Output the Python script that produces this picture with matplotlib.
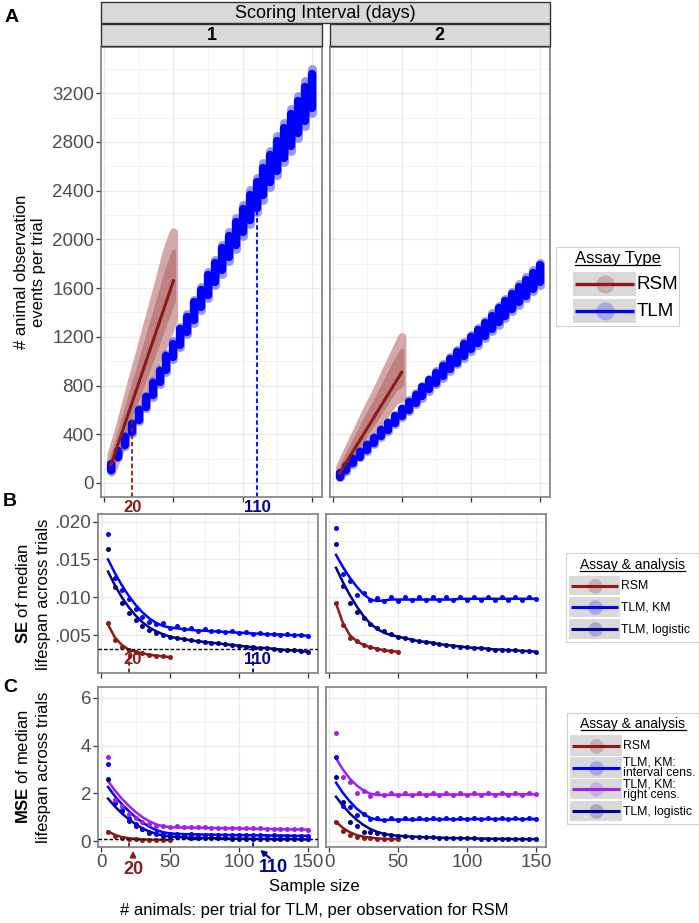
import numpy as np
import matplotlib
matplotlib.use("Agg")
import matplotlib.pyplot as plt
from matplotlib.patches import Rectangle
from matplotlib.ticker import FuncFormatter

plt.rcParams['font.family'] = ['Liberation Sans', 'DejaVu Sans']
plt.rcParams['mathtext.fontset'] = 'custom'
plt.rcParams['mathtext.rm'] = 'Liberation Sans'
plt.rcParams['mathtext.bf'] = 'Liberation Sans:bold'

W, H = 699, 923

RSM_COL = '#8B1A1A'
KM_COL = '#0000FF'
RC_COL = '#A020F0'
LOG_COL = '#00008B'
RSM_LIGHT = '#D4A8A8'
RSM_MID = '#BE8080'

intervals = ['1', '2']
n_tlm = np.arange(5, 155, 5)
n_rsm = np.arange(5, 55, 5)

# ---- panel A: observation events per trial (range of trials at each n)
tlm_lo = {
    '1': [104, 210, 305, 412, 508, 615, 709, 816, 911, 1018, 1113, 1220, 1315, 1422, 1517,
          1624, 1719, 1826, 1921, 2028, 2123, 2227, 2325, 2432, 2527, 2634, 2729, 2836, 2931, 3038],
    '2': [47, 102, 156, 211, 265, 320, 374, 429, 483, 538, 592, 647, 701, 756, 810,
          865, 919, 974, 1028, 1083, 1137, 1192, 1246, 1301, 1355, 1410, 1464, 1519, 1573, 1628],
}
tlm_hi = {
    '1': [160, 266, 385, 490, 610, 714, 834, 938, 1058, 1162, 1282, 1386, 1506, 1610, 1730,
          1834, 1954, 2058, 2178, 2282, 2402, 2506, 2626, 2730, 2850, 2954, 3074, 3178, 3298, 3402],
    '2': [83, 142, 202, 261, 321, 380, 440, 499, 559, 618, 678, 737, 797, 856, 916,
          975, 1035, 1094, 1154, 1213, 1273, 1332, 1392, 1451, 1511, 1570, 1630, 1689, 1749, 1808],
}
rsm_lo = {'1': [90, 230, 370, 505, 640, 780, 915, 1055, 1195, 1340],
          '2': [50, 130, 205, 285, 365, 440, 520, 600, 680, 700]}
rsm_hi = {'1': [230, 420, 630, 845, 1050, 1260, 1470, 1680, 1900, 2060],
          '2': [130, 250, 370, 490, 610, 720, 840, 960, 1080, 1200]}
rsm_line_n = [5, 50]
rsm_line_y = {'1': [150, 1660], '2': [80, 910]}

# ---- panel B: SE of median lifespan
se_pts = {
    '1': {
        'RSM': [.0066, .0044, .0035, .0030, .0028, .0026, .0024, .0023, .0022, .0021],
        'KM': [.0184, .0126, .0110, .0098, .0085, .0074, .0068, .0065, .0066, .0060, .0062, .0058, .0060, .0056, .0058,
               .0055, .0056, .0054, .0055, .0053, .0054, .0052, .0053, .0051, .0052, .0050, .0051, .0050, .0050, .0049],
        'LOG': [.0164, .0113, .0092, .0079, .0070, .0062, .0057, .0053, .0050, .0048, .0046, .0045, .0043, .0042, .0041,
                .0040, .0039, .0038, .0037, .0036, .0035, .0034, .0033, .0033, .0032, .0031, .0030, .0030, .0029, .0028],
    },
    '2': {
        'RSM': [.0092, .0064, .0046, .0042, .0037, .0034, .0032, .0030, .0029, .0028],
        'KM': [.0191, .0131, .0122, .0103, .0106, .0096, .0099, .0095, .0101, .0095, .0101, .0096, .0100, .0096, .0100,
               .0096, .0100, .0096, .0100, .0096, .0100, .0096, .0100, .0096, .0100, .0096, .0100, .0096, .0100, .0098],
        'LOG': [.0170, .0115, .0093, .0080, .0072, .0065, .0060, .0055, .0052, .0048, .0046, .0044, .0042, .0041, .0040,
                .0038, .0037, .0036, .0035, .0034, .0033, .0033, .0032, .0031, .0031, .0030, .0030, .0029, .0029, .0028],
    },
}
se_fit = {
    '1': {
        'RSM': [.0064, .0047, .0037, .0031, .0028, .0026, .0024, .0023, .0022, .0021],
        'KM': [.0150, .0132, .0116, .0102, .0090, .0080, .0072, .0066, .0062, .0060, .0059, .0058, .0057, .0056, .0056,
               .0055, .0055, .0054, .0054, .0053, .0053, .0052, .0052, .0051, .0051, .0051, .0050, .0050, .0050, .0049],
        'LOG': [.0134, .0116, .0100, .0087, .0076, .0067, .0060, .0055, .0051, .0048, .0046, .0045, .0043, .0042, .0041,
                .0040, .0039, .0038, .0037, .0036, .0035, .0034, .0033, .0033, .0032, .0031, .0030, .0030, .0029, .0028],
    },
    '2': {
        'RSM': [.0092, .0066, .0050, .0042, .0037, .0034, .0032, .0030, .0029, .0028],
        'KM': [.0156, .0140, .0126, .0114, .0104, .0097, .0095, .0096, .0097, .0097, .0097, .0097, .0097, .0097, .0097,
               .0097, .0097, .0097, .0098, .0098, .0098, .0098, .0098, .0098, .0098, .0098, .0098, .0098, .0098, .0098],
        'LOG': [.0139, .0120, .0103, .0088, .0075, .0065, .0058, .0053, .0050, .0048, .0046, .0044, .0042, .0041, .0040,
                .0038, .0037, .0036, .0035, .0034, .0033, .0033, .0032, .0031, .0031, .0030, .0030, .0029, .0029, .0028],
    },
}

# ---- panel C: MSE of median lifespan
mse_pts = {
    '1': {
        'RSM': [0.38, 0.20, 0.12, 0.09, 0.07, 0.06, 0.05, 0.05, 0.04, 0.04],
        'KM': [3.25, 1.60, 1.30, 0.95, 0.70, 0.50, 0.38, 0.32, 0.30, 0.28, 0.29, 0.27, 0.28, 0.26, 0.27,
               0.25, 0.26, 0.25, 0.25, 0.24, 0.25, 0.24, 0.24, 0.23, 0.24, 0.23, 0.23, 0.22, 0.23, 0.22],
        'RC': [3.51, 1.72, 1.45, 1.15, 0.95, 0.80, 0.70, 0.65, 0.62, 0.60, 0.61, 0.58, 0.59, 0.57, 0.58,
               0.56, 0.56, 0.55, 0.55, 0.54, 0.54, 0.53, 0.53, 0.52, 0.52, 0.51, 0.50, 0.50, 0.49, 0.48],
        'LOG': [2.62, 1.72, 1.25, 0.82, 0.62, 0.50, 0.35, 0.30, 0.22, 0.18, 0.16, 0.15, 0.14, 0.13, 0.12,
                0.12, 0.11, 0.11, 0.10, 0.10, 0.10, 0.09, 0.09, 0.09, 0.08, 0.08, 0.08, 0.08, 0.07, 0.07],
    },
    '2': {
        'RSM': [0.81, 0.42, 0.26, 0.18, 0.14, 0.11, 0.10, 0.09, 0.08, 0.08],
        'KM': [3.54, 1.47, 1.44, 1.09, 1.12, 0.91, 0.98, 0.90, 0.98, 0.90, 0.98, 0.91, 0.98, 0.91, 0.98,
               0.91, 0.98, 0.91, 0.98, 0.92, 0.98, 0.92, 0.98, 0.92, 0.98, 0.92, 0.98, 0.92, 0.98, 0.93],
        'RC': [4.55, 2.67, 2.46, 2.03, 2.11, 1.90, 2.00, 1.92, 2.00, 1.92, 2.00, 1.92, 2.00, 1.92, 2.00,
               1.92, 2.00, 1.93, 2.00, 1.93, 2.00, 1.93, 2.00, 1.93, 2.00, 1.93, 2.00, 1.94, 2.00, 1.96],
        'LOG': [2.70, 1.65, 0.81, 0.63, 0.39, 0.37, 0.33, 0.28, 0.25, 0.22, 0.20, 0.19, 0.17, 0.16, 0.15,
                0.14, 0.13, 0.12, 0.12, 0.11, 0.11, 0.10, 0.10, 0.09, 0.09, 0.09, 0.08, 0.08, 0.08, 0.08],
    },
}
mse_fit = {
    '1': {
        'RSM': [0.40, 0.26, 0.17, 0.12, 0.09, 0.07, 0.06, 0.05, 0.05, 0.04],
        'KM': [2.27, 1.88, 1.55, 1.26, 1.00, 0.78, 0.60, 0.46, 0.37, 0.32, 0.30, 0.29, 0.28, 0.28, 0.27,
               0.27, 0.26, 0.26, 0.25, 0.25, 0.25, 0.24, 0.24, 0.24, 0.23, 0.23, 0.23, 0.22, 0.22, 0.22],
        'RC': [2.52, 2.12, 1.78, 1.48, 1.22, 1.00, 0.83, 0.70, 0.62, 0.58, 0.57, 0.57, 0.56, 0.56, 0.55,
               0.55, 0.54, 0.54, 0.53, 0.53, 0.52, 0.52, 0.51, 0.51, 0.50, 0.50, 0.49, 0.49, 0.48, 0.48],
        'LOG': [1.78, 1.45, 1.16, 0.92, 0.71, 0.53, 0.40, 0.30, 0.23, 0.19, 0.17, 0.15, 0.14, 0.13, 0.12,
                0.12, 0.11, 0.11, 0.10, 0.10, 0.10, 0.09, 0.09, 0.09, 0.08, 0.08, 0.08, 0.08, 0.07, 0.07],
    },
    '2': {
        'RSM': [0.81, 0.55, 0.37, 0.25, 0.18, 0.14, 0.11, 0.09, 0.08, 0.08],
        'KM': [2.45, 2.02, 1.66, 1.36, 1.13, 0.97, 0.89, 0.88, 0.89, 0.90, 0.90, 0.90, 0.90, 0.91, 0.91,
               0.91, 0.91, 0.91, 0.91, 0.92, 0.92, 0.92, 0.92, 0.92, 0.92, 0.92, 0.92, 0.92, 0.92, 0.92],
        'RC': [3.47, 3.00, 2.62, 2.33, 2.12, 1.98, 1.93, 1.93, 1.94, 1.94, 1.94, 1.94, 1.95, 1.95, 1.95,
               1.95, 1.95, 1.95, 1.95, 1.95, 1.96, 1.96, 1.96, 1.96, 1.96, 1.96, 1.96, 1.96, 1.96, 1.96],
        'LOG': [1.86, 1.48, 1.16, 0.89, 0.67, 0.50, 0.38, 0.30, 0.25, 0.22, 0.20, 0.19, 0.17, 0.16, 0.15,
                0.14, 0.13, 0.12, 0.12, 0.11, 0.11, 0.10, 0.10, 0.09, 0.09, 0.09, 0.08, 0.08, 0.08, 0.08],
    },
}

# annotation: chosen sample sizes
ann_n = [20, 110]
ann_lab = ['20', '110']
ann_A_top = [517, 2226]
ann_B_y = 0.0032
ann_C_y = 0.10

series_col = {'RSM': RSM_COL, 'KM': KM_COL, 'RC': RC_COL, 'LOG': LOG_COL}

fig = plt.figure(figsize=(W / 100, H / 100), dpi=100)


def box(x0, y0, x1, y1):
    return [x0 / W, 1 - y1 / H, (x1 - x0) / W, (y1 - y0) / H]


XLIM = (-2.25, 157.25)


def style(ax, ylim, yticks, yminor, left=True, bottom_labels=False):
    ax.set_xlim(XLIM)
    ax.set_ylim(ylim)
    ax.set_xticks([0, 50, 100, 150])
    ax.set_xticks([25, 75, 125], minor=True)
    ax.set_yticks(yticks)
    ax.set_yticks(yminor, minor=True)
    ax.grid(True, which='major', color='#EBEBEB', lw=1.0)
    ax.grid(True, which='minor', color='#F3F3F3', lw=0.7)
    ax.set_axisbelow(True)
    for s in ax.spines.values():
        s.set_color('#7F7F7F')
        s.set_linewidth(1.2)
    ax.tick_params(which='major', length=3.5, width=0.9, color='#333333',
                   labelsize=13.5, labelcolor='#4D4D4D', pad=1.5)
    ax.tick_params(which='minor', length=0)
    ax.tick_params(axis='x', labelbottom=bottom_labels)
    if not left:
        ax.tick_params(axis='y', left=False, labelleft=False)


# ---------------- panel A
axA = [fig.add_axes(box(101, 47, 322, 497)), fig.add_axes(box(329.5, 47, 550, 497))]
for i, (ax, iv) in enumerate(zip(axA, intervals)):
    style(ax, (-115, 3580), list(range(0, 3201, 400)), list(range(200, 3500, 400)), left=(i == 0))
    rlo = np.array(rsm_lo[iv], float)
    rhi = np.array(rsm_hi[iv], float)
    ax.fill_between(n_rsm, rlo, rhi, facecolor=RSM_LIGHT, edgecolor=RSM_LIGHT, lw=6, joinstyle='round')
    rp = (rhi - rlo) * 0.22
    ax.fill_between(n_rsm, rlo + rp, rhi - rp, facecolor=RSM_MID, edgecolor=RSM_MID, lw=3, joinstyle='round')
    lo = np.array(tlm_lo[iv], float)
    hi = np.array(tlm_hi[iv], float)
    ax.vlines(n_tlm, lo, hi, colors=KM_COL, linewidth=6.5, alpha=0.4, capstyle='round')
    pad = (hi - lo) * 0.12
    ax.vlines(n_tlm, lo + pad, hi - pad, colors=KM_COL, linewidth=6, alpha=1.0, capstyle='round')
    ax.plot(rsm_line_n, rsm_line_y[iv], color=RSM_COL, lw=2.2)
axA[0].set_ylabel('# animal observation\nevents per trial', fontsize=12, labelpad=4)
axA[0].vlines(ann_n[0], -115, ann_A_top[0], colors=RSM_COL, linestyles=(0, (2.5, 1.5)), lw=1.3)
axA[0].vlines(ann_n[1], -115, ann_A_top[1], colors=KM_COL, linestyles=(0, (2.5, 1.5)), lw=1.3)

# ---------------- panel B
axB = [fig.add_axes(box(98, 514, 318, 673)), fig.add_axes(box(326, 514, 546, 673))]
for i, (ax, iv) in enumerate(zip(axB, intervals)):
    style(ax, (0.0, 0.0210), [.005, .010, .015, .020], [.0025, .0075, .0125, .0175], left=(i == 0))
    ax.yaxis.set_major_formatter(FuncFormatter(lambda v, p: ('%.3f' % v).lstrip('0')))
    for key in ['RSM', 'KM', 'LOG']:
        xs = n_rsm if key == 'RSM' else n_tlm
        ax.plot(xs, se_fit[iv][key], color=series_col[key], lw=1.8, zorder=3)
        ax.scatter(xs, se_pts[iv][key], s=13, color=series_col[key], lw=0, zorder=4)
axB[0].axhline(ann_B_y, color='black', ls=(0, (2.5, 1.5)), lw=1.0, zorder=5)
axB[0].vlines(ann_n[0], 0, ann_B_y, colors=RSM_COL, linestyles=(0, (2.5, 1.5)), lw=1.3)
axB[0].vlines(ann_n[1], 0, ann_B_y, colors=LOG_COL, linestyles=(0, (2.5, 1.5)), lw=1.3)

# ---------------- panel C
axC = [fig.add_axes(box(98, 687, 318, 847)), fig.add_axes(box(326, 687, 546, 847))]
for i, (ax, iv) in enumerate(zip(axC, intervals)):
    style(ax, (-0.25, 6.46), [0, 2, 4, 6], [1, 3, 5], left=(i == 0), bottom_labels=True)
    for key in ['RSM', 'LOG', 'KM', 'RC']:
        xs = n_rsm if key == 'RSM' else n_tlm
        ax.plot(xs, mse_fit[iv][key], color=series_col[key], lw=1.8, zorder=3)
        ax.scatter(xs, mse_pts[iv][key], s=13, color=series_col[key], lw=0, zorder=4)
axC[0].axhline(ann_C_y, color='black', ls=(0, (2.5, 1.5)), lw=1.0, zorder=5)
axC[0].vlines(ann_n[0], -0.25, ann_C_y, colors=RSM_COL, linestyles=(0, (2.5, 1.5)), lw=1.3)
axC[0].vlines(ann_n[1], -0.25, ann_C_y, colors=LOG_COL, linestyles=(0, (2.5, 1.5)), lw=1.3)

# ---------------- overlay for strips, labels, legends
ov = fig.add_axes([0, 0, 1, 1])
ov.set_xlim(0, W)
ov.set_ylim(H, 0)
ov.axis('off')
ov.patch.set_alpha(0)

ov.add_patch(Rectangle((101, 2), 449, 21, fc='#D9D9D9', ec='#333333', lw=1.0))
ov.text(325.5, 13, 'Scoring Interval (days)', ha='center', va='center', fontsize=13)
for (x0, x1), iv in zip([(101, 322), (329.5, 550)], intervals):
    ov.add_patch(Rectangle((x0, 24), x1 - x0, 22, fc='#D9D9D9', ec='#333333', lw=1.0))
    ov.text((x0 + x1) / 2, 35.5, iv, ha='center', va='center', fontsize=13, fontweight='bold')

for lab, (x, y) in zip(['A', 'B', 'C'], [(12, 18), (10, 502), (10, 688)]):
    ov.text(x, y, lab, ha='center', va='center', fontsize=14, fontweight='bold')

ov.text(23, 594, r'$\mathbf{SE}$ of median', rotation=90, ha='center', va='center', fontsize=12)
ov.text(43.5, 594, 'lifespan across trials', rotation=90, ha='center', va='center', fontsize=12)
ov.text(23, 767, r'$\mathbf{MSE}$ of median', rotation=90, ha='center', va='center', fontsize=12)
ov.text(43.5, 767, 'lifespan across trials', rotation=90, ha='center', va='center', fontsize=12)

ann_col = [RSM_COL, LOG_COL]
for lab, c, x in zip(ann_lab, ann_col, [132.5, 257]):
    ov.text(x, 507, lab, ha='center', va='center', fontsize=12, fontweight='bold', color=c)
    ov.text(x, 659, lab, ha='center', va='center', fontsize=12, fontweight='bold', color=c)
ov.text(133, 869, ann_lab[0], ha='center', va='center', fontsize=13, fontweight='bold', color=RSM_COL)
ov.text(273, 868, ann_lab[1], ha='center', va='center', fontsize=13, fontweight='bold', color=LOG_COL)
ov.annotate('', xy=(133, 848), xytext=(133, 860),
            arrowprops=dict(arrowstyle='-|>', color=RSM_COL, lw=1.5, mutation_scale=8))
ov.annotate('', xy=(258, 848), xytext=(272, 860),
            arrowprops=dict(arrowstyle='-|>', color=LOG_COL, lw=1.5, mutation_scale=8))

ov.text(314, 887, 'Sample size', ha='center', va='center', fontsize=12)
ov.text(314, 911, '# animals: per trial for TLM, per observation for RSM', ha='center', va='center', fontsize=12)

titles = []


def legend_block(x0, y0, x1, y1, title, base, tfs, kx0, kx1, rows, labels, cols, lfs, msize, lw):
    ov.add_patch(Rectangle((x0, y0), x1 - x0, y1 - y0, fc='white', ec='#D0D0D0', lw=0.8))
    t = ov.text((x0 + x1) / 2, base, title, ha='center', va='baseline', fontsize=tfs)
    titles.append((t, base))
    for (ya, yb), lab, col in zip(rows, labels, cols):
        ov.add_patch(Rectangle((kx0, ya), kx1 - kx0, yb - ya, fc='#D9D9D9', ec='none'))
        ym = (ya + yb) / 2
        ov.plot([kx0 + 2, kx1 - 2], [ym, ym], color=col, lw=lw, solid_capstyle='butt')
        ov.scatter([(kx0 + kx1) / 2], [ym], s=msize, color=col, alpha=0.22, lw=0)
        ov.text(kx1 + 1, ym + 0.5, lab, ha='left', va='center', fontsize=lfs, linespacing=0.85)


legend_block(556, 247, 679, 326, 'Assay Type', 263, 12, 573, 636,
             [(272, 296), (299, 323)], ['RSM', 'TLM'], [RSM_COL, KM_COL], 13.5, 170, 2.4)
legend_block(566, 553, 699, 642, 'Assay & analysis', 569, 10, 569, 620,
             [(576, 595), (597, 617), (619, 639)], ['RSM', 'TLM, KM', 'TLM, logistic'],
             [RSM_COL, KM_COL, LOG_COL], 8.8, 110, 2.2)
legend_block(567, 713, 699, 824, 'Assay & analysis', 728, 10, 570, 622,
             [(735, 756), (757, 778), (779, 799), (801, 821)],
             ['RSM', 'TLM, KM:\ninterval cens.', 'TLM, KM:\nright cens.', 'TLM, logistic'],
             [RSM_COL, KM_COL, RC_COL, LOG_COL], 8.8, 110, 2.2)

fig.canvas.draw()
r = fig.canvas.get_renderer()
for t, base in titles:
    bb = t.get_window_extent(r)
    ov.plot([bb.x0, bb.x1], [base + 1.5, base + 1.5], color='black', lw=0.9)

fig.savefig('out.png', dpi=100)
